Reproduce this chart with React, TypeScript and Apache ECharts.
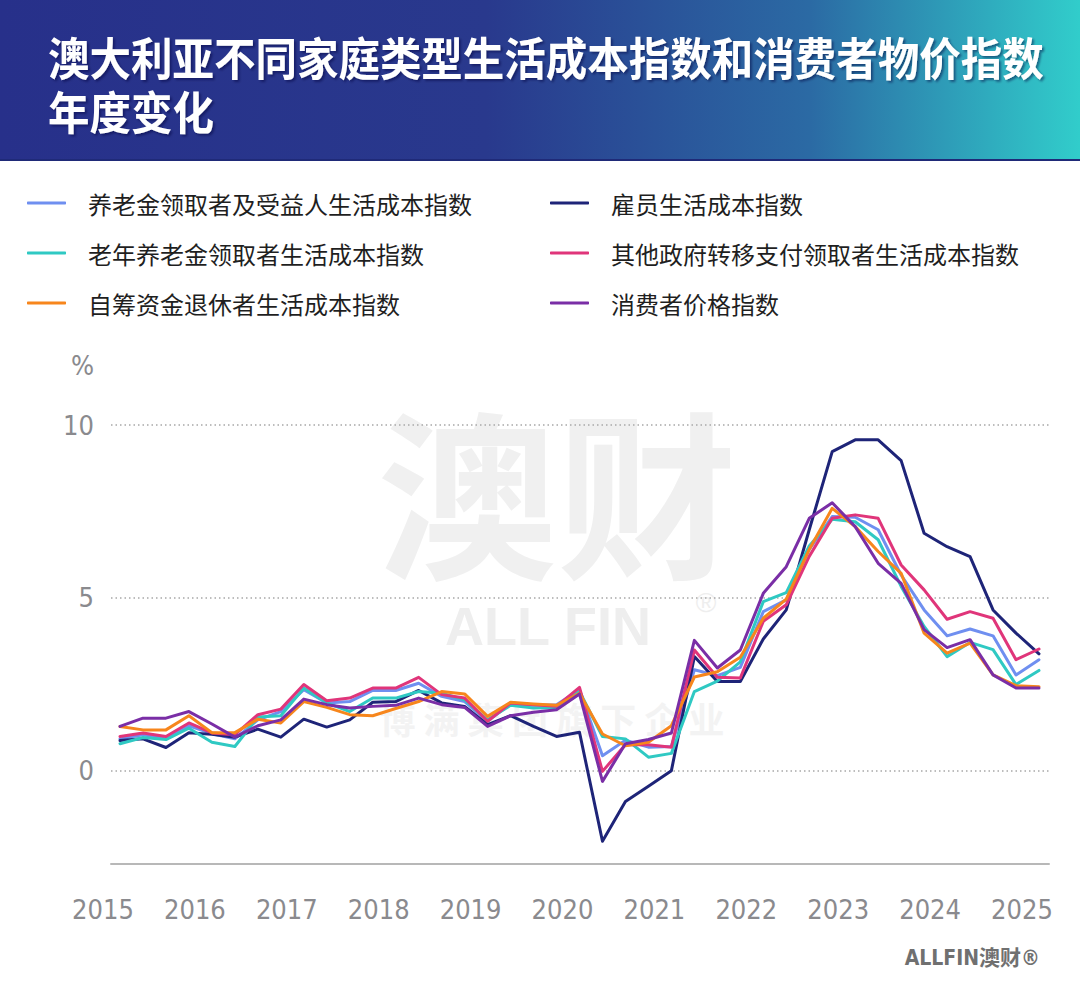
import React, { useEffect, useRef } from "react";
import * as echarts from "echarts";

const seriesNames = [
  "养老金领取者及受益人生活成本指数",
  "雇员生活成本指数",
  "老年养老金领取者生活成本指数",
  "其他政府转移支付领取者生活成本指数",
  "自筹资金退休者生活成本指数",
  "消费者价格指数",
];
const seriesColors = ["#6f8ff0", "#1e2478", "#2fc9c3", "#e0357a", "#f7861c", "#7a2ea6"];

const startYear = 2015; // first point: March quarter 2015, quarterly to March quarter 2025
const yearLabels = ["2015", "2016", "2017", "2018", "2019", "2020", "2021", "2022", "2023", "2024", "2025"];
const yTickValues = [0, 5, 10];

const pensionerBeneficiary = [0.92, 1.04, 0.92, 1.30, 1.07, 0.92, 1.47, 1.71, 2.34, 1.96, 2.00, 2.32, 2.32, 2.53, 2.15, 2.00, 1.43, 1.94, 1.89, 1.91, 2.34, 0.43, 0.88, 0.68, 0.70, 2.92, 2.75, 2.99, 4.60, 4.94, 6.40, 7.35, 7.33, 6.97, 5.66, 4.65, 3.90, 4.10, 3.90, 2.77, 3.21];
const employee = [0.87, 0.92, 0.67, 1.10, 1.05, 0.97, 1.20, 0.97, 1.49, 1.26, 1.47, 1.98, 2.00, 2.32, 1.96, 1.86, 1.33, 1.59, 1.28, 0.99, 1.11, -2.04, -0.89, -0.45, 0.00, 3.30, 2.58, 2.58, 3.81, 4.65, 6.97, 9.23, 9.57, 9.57, 8.97, 6.87, 6.48, 6.19, 4.65, 3.98, 3.38];
const agePensioner = [0.78, 0.96, 0.90, 1.23, 0.82, 0.70, 1.55, 1.59, 2.39, 1.96, 1.71, 2.10, 2.10, 2.29, 2.24, 2.05, 1.47, 1.89, 1.81, 1.83, 2.29, 0.99, 0.92, 0.39, 0.50, 2.29, 2.59, 3.15, 4.89, 5.15, 6.50, 7.27, 7.20, 6.68, 5.33, 4.17, 3.30, 3.71, 3.50, 2.49, 2.90];
const otherGovTransfer = [0.99, 1.09, 0.99, 1.38, 1.09, 1.04, 1.62, 1.78, 2.49, 2.02, 2.10, 2.39, 2.39, 2.70, 2.20, 2.10, 1.43, 1.96, 1.91, 1.86, 2.41, -0.02, 0.75, 0.75, 0.68, 3.49, 2.70, 2.68, 4.32, 4.80, 6.20, 7.30, 7.40, 7.30, 5.95, 5.23, 4.38, 4.60, 4.41, 3.21, 3.52];
const selfFundedRetiree = [1.28, 1.18, 1.18, 1.59, 1.10, 1.10, 1.49, 1.38, 2.00, 1.83, 1.62, 1.59, 1.80, 2.00, 2.29, 2.22, 1.57, 1.98, 1.93, 1.89, 2.24, 1.06, 0.72, 0.82, 1.30, 2.71, 2.86, 3.28, 4.41, 4.96, 6.40, 7.59, 7.06, 6.34, 5.71, 3.98, 3.40, 3.69, 2.77, 2.46, 2.43];
const cpi = [1.28, 1.52, 1.52, 1.71, 1.35, 0.97, 1.30, 1.47, 2.07, 1.91, 1.81, 1.86, 1.89, 2.10, 1.91, 1.83, 1.28, 1.59, 1.69, 1.76, 2.22, -0.31, 0.78, 0.90, 1.09, 3.77, 2.97, 3.49, 5.13, 5.90, 7.30, 7.75, 7.06, 6.00, 5.42, 4.08, 3.56, 3.79, 2.77, 2.39, 2.39];

const allSeries = [pensionerBeneficiary, employee, agePensioner, otherGovTransfer, selfFundedRetiree, cpi];

const LABEL_FONT = "'Liberation Sans Narrow', 'DejaVu Sans Condensed', Roboto, sans-serif";
const CJK_FONT = "'Noto Sans CJK SC', 'Noto Sans', sans-serif";

export default function App() {
  const ref = useRef<HTMLDivElement>(null);
  useEffect(() => {
    document.body.style.margin = "0";
    if (!ref.current) return;
    const chart = echarts.init(ref.current, null, { renderer: "svg" });
    const legendText = { fontSize: 24, lineHeight: 24, color: "#1f1f1f", fontFamily: CJK_FONT, padding: [0, 0, 0, 17] };
    const titleStyle = {
      fill: "#ffffff", fontSize: 41.5, fontWeight: "bold", fontFamily: CJK_FONT,
      verticalAlign: "middle", textShadowColor: "rgba(10,10,60,0.45)", textShadowOffsetX: 2, textShadowOffsetY: 2, textShadowBlur: 2,
    };
    const option: any = {
      animation: false,
      backgroundColor: "#ffffff",
      grid: { left: 111, right: 31, top: 425, bottom: 136, containLabel: false },
      legend: [
        {
          orient: "vertical", left: 27, top: 191, padding: 0, itemGap: 26,
          itemWidth: 39, itemHeight: 3, icon: "roundRect",
          data: [seriesNames[0], seriesNames[2], seriesNames[4]],
          textStyle: legendText,
        },
        {
          orient: "vertical", left: 550, top: 191, padding: 0, itemGap: 26,
          itemWidth: 39, itemHeight: 3, icon: "roundRect",
          data: [seriesNames[1], seriesNames[3], seriesNames[5]],
          textStyle: legendText,
        },
      ],
      xAxis: {
        type: "value",
        min: 2014.902,
        max: 2025.109,
        axisLine: { show: true, onZero: false, lineStyle: { color: "#b8b8b8", width: 2 } },
        axisTick: { show: false },
        splitLine: { show: false },
        axisLabel: {
          customValues: yearLabels.map((y) => Number(y)),
          formatter: (v: number) => String(Math.round(v)),
          fontSize: 27,
          color: "#8a8a8e",
          fontFamily: LABEL_FONT,
          margin: 32,
          padding: [0, 34, 0, 0],
        },
      },
      yAxis: {
        type: "value",
        min: -2.7,
        max: 10,
        splitNumber: 3,
        name: "%",
        nameLocation: "end",
        nameGap: 60,
        nameTextStyle: { fontSize: 27, color: "#8a8a8e", fontFamily: LABEL_FONT, align: "right", verticalAlign: "middle", padding: [0, 17, 0, 0] },
        axisLine: { show: false },
        axisTick: { show: false },
        axisLabel: {
          customValues: yTickValues,
          fontSize: 27,
          color: "#8a8a8e",
          fontFamily: LABEL_FONT,
          margin: 17,
        },
        splitLine: { show: true, lineStyle: { color: "#a8a8a8", width: 1.5, type: [1.5, 3] } },
      },
      graphic: [
        {
          type: "rect",
          z: 0,
          shape: { x: 0, y: 0, width: 1080, height: 160 },
          style: {
            fill: {
              type: "linear",
              x: 0, y: 0, x2: 1, y2: 0,
              colorStops: [
                { offset: 0, color: "#27308a" },
                { offset: 0.45, color: "#29398d" },
                { offset: 0.75, color: "#2b6aa4" },
                { offset: 1, color: "#31cdcb" },
              ],
            },
          },
        },
        { type: "rect", z: 1, shape: { x: 0, y: 159, width: 1080, height: 2 }, style: { fill: "#1f2a78" } },
        {
          type: "text", z: 2, x: 48, y: 56, scaleY: 1.1,
          style: { ...titleStyle, text: "澳大利亚不同家庭类型生活成本指数和消费者物价指数" },
        },
        {
          type: "text", z: 2, x: 48, y: 110, scaleY: 1.1,
          style: { ...titleStyle, text: "年度变化" },
        },
        {
          type: "text", z: -1, x: 557, y: 486,
          style: { text: "澳财", fill: "#f0f0f0", fontSize: 180, fontWeight: "bold", fontFamily: CJK_FONT, align: "center", verticalAlign: "middle" },
        },
        {
          type: "text", z: -1, x: 548, y: 626,
          style: { text: "ALL FIN", fill: "#eeeeee", fontSize: 54, fontWeight: "bold", fontFamily: "'Liberation Sans', sans-serif", align: "center", verticalAlign: "middle" },
        },
        {
          type: "text", z: -1, x: 706, y: 602,
          style: { text: "®", fill: "#eeeeee", fontSize: 28, fontFamily: "'Liberation Sans', sans-serif", align: "center", verticalAlign: "middle" },
        },
        {
          type: "text", z: -1, x: 552, y: 718,
          style: { text: "博 满 集 团 旗 下 企 业", fill: "#f3f3f3", fontSize: 36, fontWeight: "bold", fontFamily: CJK_FONT, align: "center", verticalAlign: "middle" },
        },
        {
          type: "text", z: 2, x: 1040, y: 958,
          style: { text: "ALLFIN澳财®", fill: "#707070", fontSize: 21, fontWeight: "bold", fontFamily: "'Liberation Sans Narrow', 'DejaVu Sans Condensed', 'Noto Sans CJK SC', sans-serif", align: "right", verticalAlign: "middle" },
        },
      ],
      series: allSeries.map((vals, si) => ({
        name: seriesNames[si],
        type: "line",
        data: vals.map((v, i) => [startYear + i / 4, v]),
        showSymbol: false,
        symbol: "none",
        lineStyle: { width: 3, color: seriesColors[si], cap: "round", join: "round" },
        itemStyle: { color: seriesColors[si] },
        emphasis: { disabled: true },
        z: 3 + si,
      })),
    };
    chart.setOption(option);
    return () => chart.dispose();
  }, []);
  return <div ref={ref} style={{ width: 1080, height: 1000, position: "absolute", left: 0, top: 0 }} />;
}
